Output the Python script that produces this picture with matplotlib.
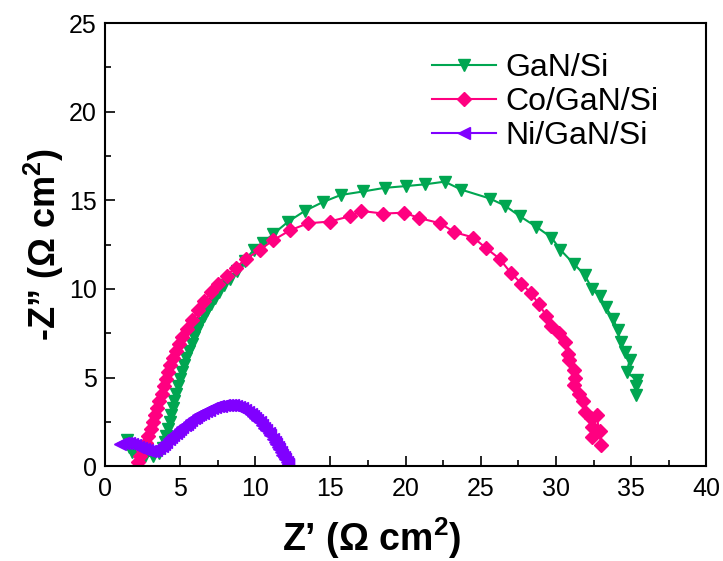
import matplotlib
matplotlib.use("Agg")
import matplotlib.pyplot as plt
from matplotlib.ticker import MultipleLocator

plt.rcParams['font.family'] = ['Liberation Sans', 'DejaVu Sans']
plt.rcParams['mathtext.fontset'] = 'custom'
plt.rcParams['mathtext.rm'] = 'Liberation Sans'
plt.rcParams['mathtext.bf'] = 'Liberation Sans:bold'

# Nyquist data: Z' (real) and -Z'' (imaginary), Ω cm²
gan_x = [1.5, 1.6, 1.8, 2.2, 2.7, 3.2, 3.6, 3.85, 4.0, 4.1, 4.2, 4.3, 4.4, 4.5,
         4.6, 4.72, 4.85, 5.0, 5.12, 5.27, 5.42, 5.6, 5.78, 5.95, 6.15, 6.35, 6.58,
         6.8, 7.05, 7.3, 7.6, 7.95, 8.35, 8.8, 9.3, 9.9, 10.5, 11.2, 12.2, 13.3,
         14.5, 15.7, 17.2, 18.6, 20.0, 21.3, 22.6, 23.7, 25.6, 26.6, 27.6, 28.7,
         29.7, 30.3, 31.2, 31.9, 32.4, 32.9, 33.3, 33.8, 34.1, 34.3, 34.6, 34.9,
         34.7, 35.4, 35.3, 35.3]
gan_y = [1.5, 1.1, 0.8, 0.6, 0.55, 0.6, 0.75, 1.0, 1.35, 1.7, 2.1, 2.5, 2.9, 3.3,
         3.7, 4.1, 4.5, 4.9, 5.3, 5.7, 6.1, 6.5, 6.9, 7.3, 7.7, 8.05, 8.45,
         8.8, 9.15, 9.5, 9.85, 10.2, 10.55, 11.0, 11.6, 12.2, 12.6, 13.1, 13.8, 14.4,
         14.9, 15.3, 15.5, 15.7, 15.8, 15.9, 16.05, 15.6, 15.1, 14.7, 14.1, 13.5,
         12.9, 12.2, 11.4, 10.8, 10.0, 9.6, 9.0, 8.3, 7.7, 7.0, 6.45, 6.0,
         5.3, 4.85, 4.5, 4.0]

co_x = [2.2, 2.35, 2.55, 2.75, 2.9, 3.05, 3.2, 3.35, 3.5, 3.62, 3.78, 3.92, 4.05,
        4.2, 4.35, 4.52, 4.7, 4.92, 5.15, 5.45, 5.8, 6.2, 6.6, 7.05, 7.55, 8.1,
        8.7, 9.4, 10.3, 11.2, 12.3, 13.5, 14.95, 16.3, 17.05, 18.5, 19.9, 20.9,
        22.3, 23.25, 24.5, 25.35, 26.25, 27.0, 27.7, 28.35, 28.85, 29.35, 29.7,
        30.2, 30.6, 30.8, 30.85, 31.2, 31.25, 31.2, 31.55, 31.8, 31.9, 32.3, 32.4,
        32.9, 32.4, 32.7, 33.0]
co_y = [0.25, 0.55, 0.9, 1.3, 1.7, 2.1, 2.5, 2.9, 3.3, 3.7, 4.1, 4.5, 4.9,
        5.3, 5.7, 6.1, 6.5, 6.9, 7.3, 7.75, 8.25, 8.8, 9.3, 9.8, 10.3, 10.75,
        11.2, 11.7, 12.2, 12.75, 13.3, 13.7, 13.8, 14.1, 14.4, 14.25, 14.3, 14.0,
        13.7, 13.2, 12.9, 12.3, 11.7, 10.9, 10.3, 9.75, 9.15, 8.5, 7.9,
        7.5, 7.0, 6.35, 6.0, 5.4, 5.0, 4.6, 4.1, 3.7, 3.05, 2.7, 2.2,
        2.0, 1.65, 2.9, 1.2]

ni_x = [1.0, 1.2, 1.4, 1.6, 1.8, 2.0, 2.2, 2.4, 2.6, 2.8, 3.0, 3.2, 3.4, 3.6,
        3.8, 3.95, 4.1, 4.25, 4.4, 4.55, 4.7, 4.85, 5.0, 5.15, 5.3, 5.45, 5.6,
        5.75, 5.9, 6.05, 6.2, 6.35, 6.5, 6.7, 6.9, 7.1, 7.3, 7.5, 7.7, 7.9,
        8.1, 8.3, 8.5, 8.7, 8.9, 9.1, 9.3, 9.5, 9.7, 9.85, 10.0, 10.15, 10.3,
        10.45, 10.6, 10.75, 10.9, 11.0, 11.15, 11.3, 11.4, 11.5, 11.6, 11.7,
        11.8, 11.9, 12.0, 12.1, 12.15, 12.2]
ni_y = [1.25, 1.28, 1.3, 1.28, 1.24, 1.18, 1.1, 1.02, 0.95, 0.9, 0.87, 0.88, 0.93, 1.02,
        1.13, 1.25, 1.38, 1.52, 1.65, 1.77, 1.9, 2.0, 2.1, 2.2, 2.3, 2.4, 2.5,
        2.6, 2.7, 2.78, 2.86, 2.94, 3.02, 3.1, 3.18, 3.26, 3.33, 3.38, 3.42, 3.45,
        3.46, 3.46, 3.44, 3.4, 3.35, 3.27, 3.18, 3.07, 2.95, 2.84, 2.72, 2.6, 2.47,
        2.33, 2.18, 2.02, 1.86, 1.74, 1.56, 1.38, 1.24, 1.1, 0.95, 0.8,
        0.65, 0.5, 0.38, 0.25, 0.15, 0.08]

labels = ["GaN/Si", "Co/GaN/Si", "Ni/GaN/Si"]
colors = ["#00A651", "#FF0080", "#8000FF"]

fig = plt.figure(figsize=(7.23, 5.61), dpi=100)
ax = fig.add_axes([0.145, 0.169, 0.832, 0.790])

ax.plot(gan_x, gan_y, color=colors[0], marker='v', ms=9, lw=1.5, label=labels[0])
ax.plot(co_x, co_y, color=colors[1], marker='D', ms=7, lw=1.5, label=labels[1])
ax.plot(ni_x, ni_y, color=colors[2], marker='<', ms=9, lw=1.5, label=labels[2])

ax.set_xlim(0, 40)
ax.set_ylim(0, 25)
ax.xaxis.set_major_locator(MultipleLocator(5))
ax.xaxis.set_minor_locator(MultipleLocator(2.5))
ax.yaxis.set_major_locator(MultipleLocator(5))
ax.yaxis.set_minor_locator(MultipleLocator(2.5))
ax.tick_params(which='both', direction='in', top=False, right=False, width=1.2,
               labelsize=18, colors='black')
ax.tick_params(which='major', length=7)
ax.tick_params(which='minor', length=4)
ax.tick_params(axis='x', which='major', pad=8)
ax.tick_params(axis='y', which='major', pad=6)
for s in ax.spines.values():
    s.set_linewidth(1.5)

ax.set_xlabel("Z\u2019 (\u03a9 cm$^{\\mathbf{2}}$)", fontsize=27, fontweight='bold', labelpad=10)
ax.xaxis.label.set_x(0.444)
ax.set_ylabel("-Z\u201d (\u03a9 cm$^{\\mathbf{2}}$)", fontsize=26, fontweight='bold', labelpad=2)

ax.legend(loc='upper left', bbox_to_anchor=(0.544, 0.932), frameon=False, fontsize=23,
          handlelength=2.0, handletextpad=0.3, labelspacing=0.13, borderpad=0,
          borderaxespad=0)

fig.savefig("out.png", dpi=100)
